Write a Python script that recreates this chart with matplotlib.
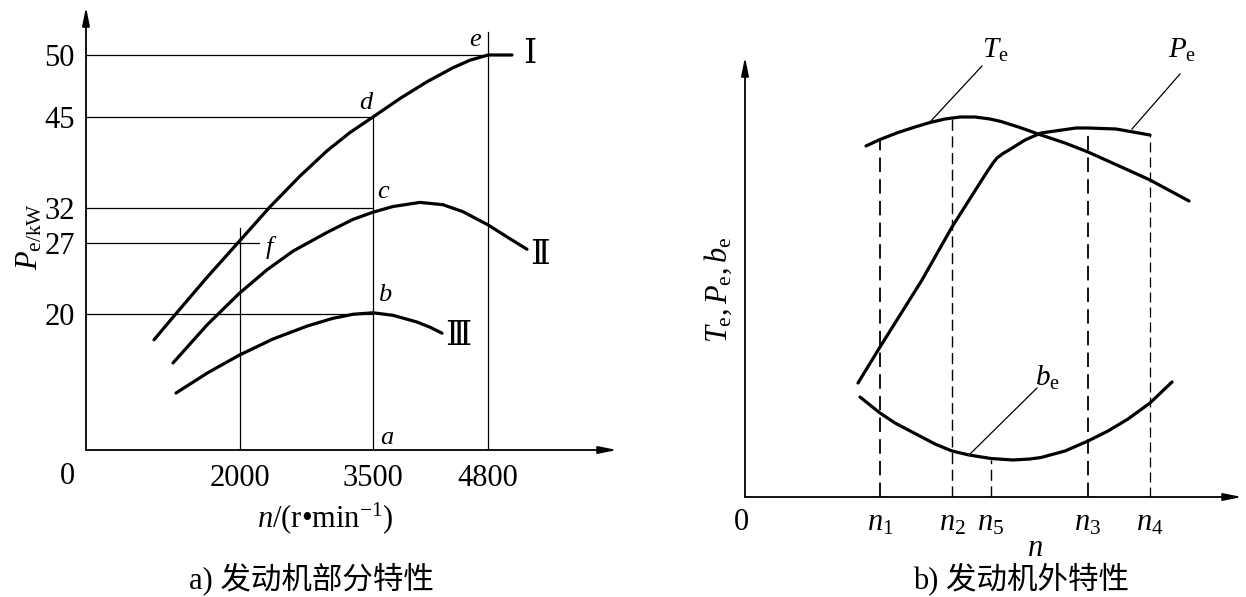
import numpy as np
import matplotlib
matplotlib.use("Agg")
import matplotlib.pyplot as plt

plt.rcParams['font.family'] = ['Liberation Serif', 'DejaVu Serif', 'Noto Sans CJK SC']
plt.rcParams['mathtext.fontset'] = 'custom'
plt.rcParams['mathtext.rm'] = 'Liberation Serif'
plt.rcParams['mathtext.it'] = 'Liberation Serif:italic'
plt.rcParams['mathtext.bf'] = 'Liberation Serif:bold'

# ---------------- panel a) data ----------------
speed_ticks = [2000, 3500, 4800]
power_ticks = [20, 27, 32, 45, 50]

curve1_n = [883, 1130, 1571, 1987, 2338, 2677, 2981, 3241, 3500, 3805, 4110, 4404, 4596, 4800, 5071]
curve1_p = [16.2, 19.53, 23.61, 27.2, 32.16, 36.57, 40.16, 42.79, 45.0, 46.49, 47.84, 48.97, 49.58, 50.0, 50.0]

curve2_n = [1130, 1571, 1987, 2305, 2598, 2981, 3274, 3500, 3726, 4031, 4291, 4517, 4800, 5015, 5241]
curve2_p = [12.8, 18.38, 22.01, 24.36, 26.2, 28.51, 30.37, 31.4, 32.21, 32.8, 32.47, 31.47, 29.59, 27.87, 26.38]

curve3_n = [1169, 1571, 1987, 2372, 2756, 3049, 3274, 3500, 3726, 3997, 4144, 4280]
curve3_p = [8.38, 11.29, 13.93, 16.32, 18.22, 19.37, 19.96, 20.12, 19.81, 18.82, 18.06, 17.18]

# reference lines: (power level, speed where it ends)
hline_p = [50, 45, 32, 27, 20]
hline_n = [4800, 3500, 3500, 2214, 3500]
# vertical lines: (speed, power where it ends)
vline_n = [2000, 3500, 4800]
vline_p = [29.1, 45.0, 51.85]

point_labels = ['e', 'd', 'c', 'f', 'b', 'a']
point_n = [4800, 3500, 3500, 2000, 3500, 3500]
point_p = [50, 45, 32, 27, 20, 0]
point_off = [(-13, 15), (-7, 14), (10, 16), (29, -4), (12, 19), (14, 12)]

curve_names = ['Ⅰ', 'Ⅱ', 'Ⅲ']
curve_name_off = [(18, 0), (13, -6), (16, -4)]

# ---------------- panel b) data ----------------
n_labels = [r'$n_1$', r'$n_2$', r'$n_5$', r'$n_3$', r'$n_4$']
n_pos = [135, 207, 246, 343, 405]
n_top = [357, 380, 37, 369, 362]
n_lw = [1.3, 1.0, 1.0, 1.3, 0.9]

te_n = [121, 135, 153, 170, 185, 200, 215, 230, 245, 256, 275, 296, 320, 343, 383, 405, 444]
te_v = [351, 357.5, 364.5, 370, 374.5, 378, 380, 380, 378, 375.5, 369.5, 362, 354, 345, 327, 317, 296]

pe_n = [113, 135, 177, 207, 240, 248, 252, 258, 264, 280, 296, 331, 343, 371, 405]
pe_v = [114, 150, 217, 270, 322, 334, 339, 343.5, 347, 357, 364, 369, 369, 368, 362]

be_n = [115, 135, 150, 169, 190, 207, 224, 246, 268, 285, 296, 320, 343, 363, 383, 405, 427]
be_v = [100, 84, 74, 64, 53, 46, 42, 38.5, 37, 38, 39.5, 46, 56, 66, 78, 94, 115]

# ---------------- figure ----------------
W, H = 1246, 597
fig = plt.figure(figsize=(W / 100, H / 100), dpi=100)


def px_axes(left, top, right, bottom):
    return fig.add_axes([left / W, 1 - bottom / H, (right - left) / W, (bottom - top) / H])


# piecewise scales (schematic axes in the original drawing)
xk_val = np.array([-10000, 0, 2000, 3500, 4800, 20000], float)
xk_off = np.array([-770, 0, 154, 287, 402, 402 + 15200 * 0.0885])
yk_val = np.array([-100, 0, 20, 27, 32, 45, 50, 200], float)
yk_off = np.array([-680, 0, 136, 207, 242, 333, 395, 395 + 150 * 12.4])


def xf(v): return np.interp(v, xk_val, xk_off)
def xi(o): return np.interp(o, xk_off, xk_val)
def yf(v): return np.interp(v, yk_val, yk_off)
def yi(o): return np.interp(o, yk_off, yk_val)


axa = px_axes(86, 7, 617, 450)
axa.set_xscale('function', functions=(xf, xi))
axa.set_yscale('function', functions=(yf, yi))
axa.set_xlim(0, float(xi(531)))
axa.set_ylim(0, float(yi(443)))

thin = dict(color='black', lw=0.9)
for p, n in zip(hline_p, hline_n):
    axa.plot([0, n], [p, p], **thin)
for n, p in zip(vline_n, vline_p):
    axa.plot([n, n], [0, p], **thin)

for xs, ys in [(curve1_n, curve1_p), (curve2_n, curve2_p), (curve3_n, curve3_p)]:
    axa.plot(xs, ys, color='black', lw=2.3, solid_joinstyle='round', solid_capstyle='round')

for lab, n, p, off in zip(point_labels, point_n, point_p, point_off):
    axa.annotate(lab, xy=(n, p), xytext=off, textcoords='offset pixels',
                 ha='center', va='center', fontsize=19, fontstyle='italic')

ends = [(curve1_n[-1], curve1_p[-1]), (curve2_n[-1], curve2_p[-1]), (curve3_n[-1], curve3_p[-1])]
for name, (n, p), off in zip(curve_names, ends, curve_name_off):
    axa.annotate(name, xy=(n, p), xytext=off, textcoords='offset pixels',
                 ha='center', va='center', fontsize=24)

axa.set_xticks(speed_ticks)
axa.set_xticklabels([str(v) for v in speed_ticks])
axa.set_yticks(power_ticks)
axa.set_yticklabels([str(v) for v in power_ticks])
axa.tick_params(axis='both', length=0, labelsize=22)
axa.tick_params(axis='x', pad=10)
axa.tick_params(axis='y', pad=8)
axa.minorticks_off()
axa.annotate('0', xy=(0, 0), xytext=(-19, -27), textcoords='offset pixels',
             ha='center', va='center', fontsize=22)

for s in axa.spines.values():
    s.set_visible(False)
axa.patch.set_visible(False)

arrow = dict(arrowstyle='-|>,head_length=1.1,head_width=0.22', lw=1.3, color='black',
             shrinkA=0, shrinkB=0, mutation_scale=10)
axa.annotate('', xy=(1, 0), xytext=(0, 0), xycoords='axes fraction', arrowprops=arrow)
axa.annotate('', xy=(0, 1), xytext=(0, 0), xycoords='axes fraction', arrowprops=arrow)

fig.text(30 / W, 1 - 236 / H, r'$P_{\mathrm{e/kW}}$', rotation=90, ha='center', va='center', fontsize=22)
fig.text(325 / W, 1 - 518 / H, r'$n/(\mathrm{r{•}min^{-1}})$', ha='center', va='center', fontsize=22)
fig.text(311 / W, 1 - 579 / H, 'a) 发动机部分特性', ha='center', va='center', fontsize=22,
         family=['Liberation Serif', 'Noto Sans CJK SC'])

# ---------------- panel b ----------------
axb = px_axes(745, 57, 1242, 497)
axb.set_xlim(0, 497)
axb.set_ylim(0, 440)

for n, t, lw in zip(n_pos, n_top, n_lw):
    axb.plot([n, n], [0, t], color='black', lw=lw, dashes=(8, 4))

for xs, ys in [(te_n, te_v), (pe_n, pe_v), (be_n, be_v)]:
    axb.plot(xs, ys, color='black', lw=2.3, solid_joinstyle='round', solid_capstyle='round')

# leader lines and curve names
leaders = [((185, 375), (237, 431), r'$T_{\mathrm{e}}$', (250, 447)),
           ((387, 368), (435, 423), r'$P_{\mathrm{e}}$', (437, 447)),
           ((224, 42), (292, 109), r'$b_{\mathrm{e}}$', (302, 119))]
for (x0, y0), (x1, y1), lab, (tx, ty) in leaders:
    axb.plot([x0, x1], [y0, y1], color='black', lw=0.9)
    axb.text(tx, ty, lab, ha='center', va='center', fontsize=21)

axb.set_xticks(n_pos)
axb.set_xticklabels(n_labels)
axb.set_yticks([])
axb.tick_params(axis='x', length=0, labelsize=22, pad=8)
axb.annotate('0', xy=(0, 0), xytext=(-4, -25), textcoords='offset pixels',
             ha='center', va='center', fontsize=22)
for s in axb.spines.values():
    s.set_visible(False)
axb.patch.set_visible(False)
axb.annotate('', xy=(1, 0), xytext=(0, 0), xycoords='axes fraction', arrowprops=arrow)
axb.annotate('', xy=(0, 1), xytext=(0, 0), xycoords='axes fraction', arrowprops=arrow)

fig.text(718 / W, 1 - 290 / H, r'$T_{\mathrm{e}}, P_{\mathrm{e}}, b_{\mathrm{e}}$', rotation=90,
         ha='center', va='center', fontsize=22)
fig.text(1035 / W, 1 - 548 / H, r'$n$', ha='center', va='center', fontsize=22)
fig.text(1021 / W, 1 - 579 / H, 'b) 发动机外特性', ha='center', va='center', fontsize=22,
         family=['Liberation Serif', 'Noto Sans CJK SC'])

fig.savefig('out.png', dpi=100)
